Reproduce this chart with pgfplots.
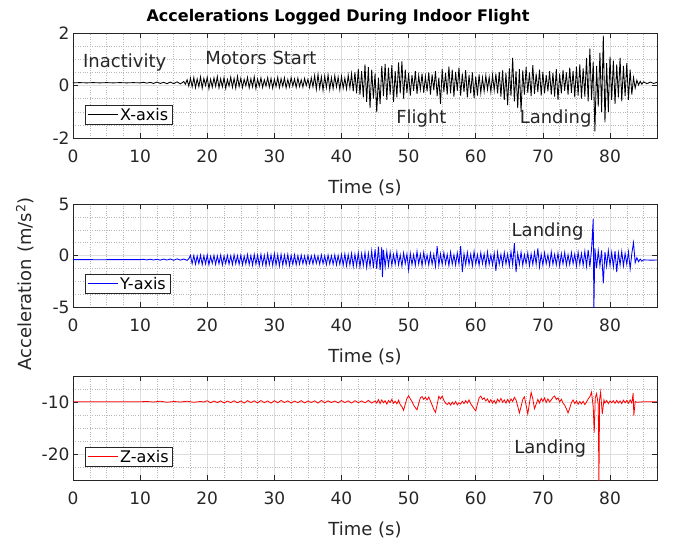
\documentclass[border=0pt]{standalone}
\usepackage{fontspec}
\setmainfont{DejaVu Sans}
\usepackage{pgfplots}
\pgfplotsset{compat=1.18}

\definecolor{axc}{gray}{0.15}
\tikzset{note/.style={font=\fontsize{18}{21}\selectfont, text=axc}}

\pgfplotsset{
  mlab/.style={
    scale only axis, width=584pt,
    xmin=0, xmax=87, xtick={0,10,...,80},
    minor xtick={2.5,5,7.5,12.5,15,17.5,22.5,25,27.5,32.5,35,37.5,42.5,45,47.5,52.5,55,57.5,62.5,65,67.5,72.5,75,77.5,82.5,85},
    grid=both,
    major grid style={color=black!13, line width=0.6pt},
    minor grid style={color=black!28, dotted, line width=0.5pt},
    tick align=inside, tick pos=both,
    major tick length=5pt, minor tick length=0pt,
    axis line style={color=axc, line width=0.6pt},
    every tick/.style={color=axc, line width=0.6pt},
    tick label style={font=\fontsize{17}{20}\selectfont, text=axc},
    xticklabel style={anchor=center, yshift=-18pt},
    /pgf/number format/assume math mode=true,
    xlabel={Time (s)},
    label style={font=\fontsize{18}{21}\selectfont, text=axc},
    xlabel style={at={(axis description cs:0.5,0)}, anchor=center, yshift=-50pt},
    legend style={at={(0,0)}, anchor=south west, xshift=12pt, yshift=13pt,
      font=\fontsize{16}{18}\selectfont, draw=axc, line width=0.6pt,
      inner xsep=2pt, inner ysep=1pt, text=black},
    legend image code/.code={\draw[#1, line width=0.8pt] (0pt,0pt) -- (30pt,0pt);},
    legend cell align=left,
  },
}

\begin{document}
\begin{tikzpicture}
\useasboundingbox (-73pt,33pt) rectangle (604pt,-511pt);

% ---- X axis ----
\begin{axis}[mlab, height=105pt, at={(0pt,0pt)}, anchor=north west,
  ymin=-2, ymax=2, ytick={-2,0,2},
  minor ytick={-1.5,-1,-0.5,0.5,1,1.5},
  title={Accelerations Logged During Indoor Flight},
  title style={font=\bfseries\fontsize{16}{18}\selectfont, at={(axis description cs:0.5,1)}, anchor=center, yshift=10pt, xshift=-27pt}]
\addplot[black, line width=0.85pt] coordinates {
(0,0.10)(1,0.11)(2,0.10)(3,0.11)(4,0.10)(5,0.11)(6,0.10)(7,0.11)(8,0.10)(9,0.11)(10,0.10)
(10.5,0.12)(11,0.09)(11.5,0.12)(12,0.08)(12.5,0.13)(13,0.08)(13.5,0.12)(14,0.07)(14.5,0.13)(15,0.07)(15.5,0.14)(16,0.06)(16.5,0.15)(16.75,0.05)
(17.00,0.22)(17.25,-0.02)(17.50,0.28)(17.75,-0.05)(18.00,0.30)(18.25,-0.08)(18.50,0.25)(18.75,-0.04)
(19.00,0.33)(19.25,-0.10)(19.50,0.27)(19.75,0.00)(20.00,0.31)(20.25,-0.12)(20.50,0.24)(20.75,-0.06)
(21.00,0.29)(21.25,-0.03)(21.50,0.34)(21.75,-0.09)(22.00,0.26)(22.25,-0.05)(22.50,0.30)(22.75,-0.11)
(23.00,0.23)(23.25,-0.02)(23.50,0.32)(23.75,-0.07)(24.00,0.27)(24.25,-0.10)(24.50,0.35)(24.75,-0.04)
(25.00,0.28)(25.25,-0.08)(25.50,0.24)(25.75,-0.01)(26.00,0.31)(26.25,-0.09)(26.50,0.26)(26.75,-0.05)
(27.00,0.33)(27.25,-0.12)(27.50,0.25)(27.75,-0.03)(28.00,0.29)(28.25,-0.07)(28.50,0.22)(28.75,-0.02)
(29.00,0.30)(29.25,-0.06)(29.50,0.27)(29.75,-0.10)(30.00,0.24)(30.25,-0.04)(30.50,0.31)(30.75,-0.08)
(31.00,0.26)(31.25,-0.03)(31.50,0.29)(31.75,-0.09)(32.00,0.23)(32.25,-0.05)(32.50,0.30)(32.75,-0.02)
(33.00,0.25)(33.25,-0.07)(33.50,0.28)(33.75,-0.04)(34.00,0.22)(34.25,-0.06)(34.50,0.27)(34.75,0.00)
(35.00,0.24)(35.25,-0.08)(35.50,0.29)(35.75,-0.05)(36.00,0.38)(36.25,-0.14)(36.50,0.42)(36.75,-0.10)
(37.00,0.33)(37.25,-0.18)(37.50,0.36)(37.75,-0.08)(38.00,0.40)(38.25,-0.15)(38.50,0.30)(38.75,-0.12)
(39.00,0.37)(39.25,-0.06)(39.50,0.32)(39.75,-0.16)(40.00,0.35)(40.25,-0.10)(40.50,0.28)(40.75,-0.13)
(41.00,0.39)(41.25,-0.09)(41.50,0.45)(41.75,-0.22)(42.00,0.50)(42.25,-0.30)(42.50,0.62)(42.75,-0.35)
(43.00,0.55)(43.25,-0.45)(43.50,0.80)(43.75,-0.62)(44.00,0.70)(44.25,-0.85)(44.50,0.60)(44.75,-0.50)
(45.00,0.45)(45.25,-1.02)(45.50,0.30)(45.75,-0.70)(46.00,0.75)(46.25,-0.40)(46.50,0.82)(46.75,-0.55)
(47.00,0.68)(47.25,-0.35)(47.50,0.78)(47.75,-0.62)(48.00,0.55)(48.25,-0.45)(48.50,0.88)(48.75,-0.30)
(49.00,0.92)(49.25,-0.50)(49.50,0.60)(49.75,-0.28)(50.00,0.48)(50.25,-0.38)(50.50,0.40)(50.75,-0.20)
(51.00,0.55)(51.25,-0.32)(51.50,0.38)(51.75,-0.15)(52.00,0.45)(52.25,-0.28)(52.50,0.35)(52.75,-0.22)
(53.00,0.50)(53.25,-0.35)(53.50,0.42)(53.75,-0.18)(54.00,0.55)(54.25,-0.40)(54.50,0.30)(54.75,-0.70)
(55.00,0.62)(55.25,-0.25)(55.50,0.48)(55.75,-0.35)(56.00,0.72)(56.25,-0.30)(56.50,0.60)(56.75,-0.42)
(57.00,0.52)(57.25,-0.20)(57.50,0.68)(57.75,-0.38)(58.00,0.45)(58.25,-0.25)(58.50,0.58)(58.75,-0.45)
(59.00,0.40)(59.25,-0.30)(59.50,0.50)(59.75,-0.48)(60.00,0.35)(60.25,-0.38)(60.50,0.42)(60.75,-0.28)
(61.00,0.30)(61.25,-0.22)(61.50,0.38)(61.75,-0.15)(62.00,0.32)(62.25,-0.25)(62.50,0.40)(62.75,-0.18)
(63.00,0.45)(63.25,-0.30)(63.50,0.52)(63.75,-0.42)(64.00,0.58)(64.25,-0.55)(64.50,0.48)(64.75,-0.75)
(65.00,0.65)(65.25,-0.40)(65.50,1.05)(65.75,-0.60)(66.00,0.55)(66.25,-0.85)(66.50,0.62)(66.75,-1.00)
(67.00,0.58)(67.25,-0.35)(67.50,0.70)(67.75,-0.28)(68.00,0.50)(68.25,-0.40)(68.50,0.78)(68.75,-0.32)
(69.00,0.45)(69.25,-0.25)(69.50,0.60)(69.75,-0.38)(70.00,0.52)(70.25,-0.30)(70.50,0.40)(70.75,-0.22)
(71.00,0.55)(71.25,-0.35)(71.50,0.48)(71.75,-0.42)(72.00,0.62)(72.25,-0.55)(72.50,0.45)(72.75,-0.30)
(73.00,0.58)(73.25,-0.20)(73.50,0.50)(73.75,-0.35)(74.00,0.68)(74.25,-0.28)(74.50,0.55)(74.75,-0.45)
(75.00,0.72)(75.25,-0.38)(75.50,0.80)(75.75,-0.50)(76.00,0.65)(76.25,-0.42)(76.50,1.05)(76.75,-0.60)
(77.00,1.40)(77.25,-0.55)(77.50,0.90)(77.75,-1.75)(78.00,0.75)(78.25,-0.80)(78.50,1.25)(78.75,-1.00)
(79.00,1.90)(79.25,-1.40)(79.50,0.85)(79.75,-1.00)(80.00,1.10)(80.25,-0.55)(80.50,0.95)(80.75,-0.70)
(81.00,0.80)(81.25,-0.45)(81.50,1.05)(81.75,-0.60)(82.00,0.75)(82.25,-0.40)(82.50,0.85)(82.75,-0.55)
(83.00,0.60)(83.25,-0.35)(83.50,0.30)(83.75,-0.10)(84.00,0.20)(84.25,0.02)(84.50,0.16)(84.75,0.05)
(85.00,0.14)(85.50,0.07)(86.00,0.13)(86.50,0.08)(87.00,0.12)
};
\addlegendentry{X-axis}
\node[note] at (axis cs:7.7,0.88) {Inactivity};
\node[note] at (axis cs:28,1.05) {Motors Start};
\node[note] at (axis cs:51.9,-1.24) {Flight};
\node[note] at (axis cs:71.9,-1.24) {Landing};
\end{axis}

% ---- Y axis ----
\begin{axis}[mlab, height=103pt, at={(0pt,-171pt)}, anchor=north west,
  ymin=-5, ymax=5, ytick={-5,0,5},
  minor ytick={-3.75,-2.5,-1.25,1.25,2.5,3.75}]
\addplot[blue, line width=0.85pt] coordinates {
(0,-0.40)(2,-0.40)(4,-0.41)(6,-0.40)(8,-0.40)(10,-0.40)
(10.5,-0.37)(11,-0.43)(11.5,-0.36)(12,-0.44)(12.5,-0.36)(13,-0.45)(13.5,-0.35)(14,-0.44)(14.5,-0.34)(15,-0.46)(15.5,-0.33)(16,-0.45)(16.5,-0.34)(17,-0.47)(17.25,-0.32)
(17.50,0.02)(17.75,-0.80)(18.00,0.00)(18.25,-0.85)(18.50,-0.05)(18.75,-0.78)(19.00,0.03)(19.25,-0.88)
(19.50,-0.02)(19.75,-0.82)(20.00,0.05)(20.25,-0.90)(20.50,-0.08)(20.75,-0.76)(21.00,0.01)(21.25,-0.86)
(21.50,-0.04)(21.75,-0.80)(22.00,0.04)(22.25,-0.92)(22.50,-0.06)(22.75,-0.78)(23.00,0.02)(23.25,-0.84)
(23.50,-0.03)(23.75,-0.88)(24.00,0.06)(24.25,-0.80)(24.50,-0.01)(24.75,-0.86)(25.00,0.03)(25.25,-0.90)
(25.50,-0.05)(25.75,-0.82)(26.00,0.08)(26.25,-0.88)(26.50,0.00)(26.75,-0.94)(27.00,0.10)(27.25,-0.85)
(27.50,0.05)(27.75,-0.96)(28.00,0.12)(28.25,-0.90)(28.50,0.02)(28.75,-0.98)(29.00,0.15)(29.25,-0.88)
(29.50,0.06)(29.75,-0.95)(30.00,0.18)(30.25,-0.92)(30.50,0.08)(30.75,-1.00)(31.00,0.12)(31.25,-0.94)
(31.50,0.04)(31.75,-0.90)(32.00,0.10)(32.25,-0.96)(32.50,0.02)(32.75,-0.86)(33.00,0.06)(33.25,-0.90)
(33.50,-0.02)(33.75,-0.84)(34.00,0.03)(34.25,-0.80)(34.50,-0.05)(34.75,-0.86)(35.00,0.00)(35.25,-0.78)
(35.50,-0.04)(35.75,-0.82)(36.00,0.02)(36.25,-0.76)(36.50,-0.06)(36.75,-0.84)(37.00,0.05)(37.25,-0.80)
(37.50,-0.03)(37.75,-0.88)(38.00,0.04)(38.25,-0.82)(38.50,-0.02)(38.75,-0.86)(39.00,0.06)(39.25,-0.90)
(39.50,0.00)(39.75,-0.85)(40.00,0.10)(40.25,-0.95)(40.50,0.15)(40.75,-1.00)(41.00,0.08)(41.25,-0.92)
(41.50,0.20)(41.75,-1.05)(42.00,0.12)(42.25,-0.98)(42.50,0.25)(42.75,-1.10)(43.00,0.18)(43.25,-0.95)
(43.50,0.30)(43.75,-1.15)(44.00,0.22)(44.25,-1.05)(44.50,0.45)(44.75,-1.20)(45.00,0.60)(45.25,-1.30)
(45.50,0.85)(45.75,-1.40)(46.00,0.80)(46.10,-2.10)(46.25,0.55)(46.50,-1.10)(46.75,0.40)(47.00,-1.00)
(47.25,0.30)(47.50,-0.95)(47.75,0.10)(48.00,-0.85)(48.25,0.35)(48.50,-0.90)(48.75,0.05)(49.00,-1.05)
(49.25,0.25)(49.50,-0.80)(49.75,0.15)(50.00,-1.40)(50.25,0.20)(50.50,-0.88)(50.75,0.08)(51.00,-0.95)
(51.25,0.40)(51.50,-0.82)(51.75,0.12)(52.00,-1.00)(52.25,0.30)(52.50,-0.78)(52.75,0.05)(53.00,-0.92)
(53.25,0.22)(53.50,-0.86)(53.75,0.10)(54.00,-1.05)(54.25,0.90)(54.50,-0.95)(54.75,0.15)(55.00,-0.88)
(55.25,0.28)(55.50,-0.80)(55.75,0.10)(56.00,-0.98)(56.25,0.32)(56.50,-0.85)(56.75,0.06)(57.00,-0.92)
(57.25,0.25)(57.50,-0.82)(57.75,0.90)(58.00,-1.60)(58.25,0.18)(58.50,-0.90)(58.75,0.30)(59.00,-0.86)
(59.25,0.12)(59.50,-1.00)(59.75,0.38)(60.00,-0.84)(60.25,0.08)(60.50,-0.95)(60.75,0.26)(61.00,-0.80)
(61.25,0.15)(61.50,-1.02)(61.75,0.34)(62.00,-0.88)(62.25,0.05)(62.50,-0.92)(62.75,0.22)(63.00,-1.50)
(63.25,0.30)(63.50,-0.85)(63.75,0.10)(64.00,-0.96)(64.25,0.28)(64.50,-0.82)(64.75,0.14)(65.00,-1.00)
(65.25,0.36)(65.50,-0.90)(65.75,1.20)(66.00,-1.60)(66.25,0.20)(66.50,-0.86)(66.75,0.32)(67.00,-0.94)
(67.25,0.08)(67.50,-0.80)(67.75,0.25)(68.00,-0.98)(68.25,0.15)(68.50,-0.88)(68.75,0.30)(69.00,-0.84)
(69.25,0.70)(69.50,-1.10)(69.75,0.12)(70.00,-0.92)(70.25,0.26)(70.50,-0.80)(70.75,0.06)(71.00,-0.96)
(71.25,0.34)(71.50,-0.86)(71.75,0.10)(72.00,-0.90)(72.25,0.22)(72.50,-1.00)(72.75,0.18)(73.00,-0.82)
(73.25,0.30)(73.50,-0.94)(73.75,0.08)(74.00,-0.88)(74.25,0.28)(74.50,-0.80)(74.75,0.14)(75.00,-1.02)
(75.25,0.32)(75.50,-0.86)(75.75,0.20)(76.00,-0.95)(76.25,0.40)(76.50,-1.05)(76.75,0.55)(77.00,-1.10)
(77.25,0.60)(77.50,3.55)(77.60,-5.20)(77.75,0.70)(78.00,-1.20)(78.25,0.45)(78.50,-1.00)(78.75,0.50)
(79.00,-2.70)(79.25,0.35)(79.50,-1.05)(79.75,0.48)(80.00,-0.95)(80.25,0.30)(80.50,-1.10)(80.75,0.42)
(81.00,-1.60)(81.25,0.25)(81.50,-0.90)(81.75,0.38)(82.00,-1.00)(82.25,0.20)(82.50,-0.85)(82.75,0.35)
(83.00,-1.30)(83.25,0.20)(83.50,1.25)(83.75,-0.70)(84.00,-0.20)(84.25,-0.60)(84.50,-0.35)(84.75,-0.55)
(85.00,-0.42)(86.00,-0.45)(87.00,-0.44)
};
\addlegendentry{Y-axis}
\node[note] at (axis cs:70.7,2.28) {Landing};
\end{axis}

% ---- Z axis ----
\begin{axis}[mlab, height=104pt, at={(0pt,-343pt)}, anchor=north west,
  ymin=-25, ymax=-5, ytick={-20,-10},
  minor ytick={-22.5,-17.5,-15,-12.5,-7.5}]
\addplot[red, line width=0.8pt] coordinates {
(0,-9.95)(5,-9.95)(10,-9.95)
(11,-9.90)(12,-10.00)(13,-9.85)(14,-10.05)(15,-9.90)(16,-10.00)(17,-9.85)(18,-10.05)(19,-9.90)(19.5,-10.00)
(20.0,-9.75)(20.5,-10.15)(21.0,-9.80)(21.5,-10.10)(22.0,-9.78)(22.5,-10.18)(23.0,-9.82)(23.5,-10.12)
(24.0,-9.76)(24.5,-10.15)(25.0,-9.80)(25.5,-10.20)(26.0,-9.74)(26.5,-10.10)(27.0,-9.78)(27.5,-10.16)
(28.0,-9.72)(28.5,-10.12)(29.0,-9.80)(29.5,-10.20)(30.0,-9.75)(30.5,-10.15)(31.0,-9.70)(31.5,-10.10)
(32.0,-9.78)(32.5,-10.18)(33.0,-9.82)(33.5,-10.12)(34.0,-9.74)(34.5,-10.16)(35.0,-9.80)(35.5,-10.10)
(36.0,-9.76)(36.5,-10.20)(37.0,-9.70)(37.5,-10.14)(38.0,-9.78)(38.5,-10.10)(39.0,-9.80)(39.5,-10.16)
(40.0,-9.72)(40.5,-10.12)(41.0,-9.78)(41.5,-10.20)(42.0,-9.75)(42.5,-10.10)(43.0,-9.80)(43.5,-10.15)
(44.0,-9.70)(44.5,-10.20)
(45.00,-9.80)(45.25,-10.20)(45.50,-9.55)(45.75,-10.30)(46.00,-9.60)(46.25,-10.15)(46.50,-9.75)(46.75,-10.40)
(47.00,-9.70)(47.25,-10.10)(47.50,-9.50)(47.75,-10.25)(48.00,-9.85)(48.25,-10.35)(48.50,-9.65)(48.75,-10.50)
(49.00,-10.90)(49.25,-11.60)(49.50,-10.40)(49.75,-9.30)(50.00,-8.80)(50.25,-9.40)(50.50,-9.90)(50.75,-10.60)
(51.00,-11.10)(51.25,-11.50)(51.50,-10.30)(51.75,-9.20)(52.00,-8.95)(52.25,-9.50)(52.50,-9.10)(52.75,-9.60)
(53.00,-9.05)(53.25,-9.80)(53.50,-10.60)(53.75,-11.40)(54.00,-12.00)(54.25,-10.50)(54.50,-8.90)(54.75,-9.40)
(55.00,-8.85)(55.25,-9.70)(55.50,-10.20)(55.75,-10.50)(56.00,-10.10)(56.25,-10.60)(56.50,-10.00)(56.75,-10.45)
(57.00,-9.90)(57.25,-10.55)(57.50,-10.15)(57.75,-10.40)(58.00,-9.85)(58.25,-10.30)(58.50,-9.75)(58.75,-10.20)
(59.00,-9.60)(59.25,-10.35)(59.50,-10.80)(59.75,-11.30)(60.00,-11.70)(60.25,-10.40)(60.50,-9.20)(60.75,-8.85)
(61.00,-9.50)(61.25,-9.20)(61.50,-9.80)(61.75,-9.40)(62.00,-10.10)(62.25,-9.55)(62.50,-10.20)(62.75,-9.70)
(63.00,-10.30)(63.25,-9.45)(63.50,-9.95)(63.75,-9.30)(64.00,-10.05)(64.25,-9.60)(64.50,-10.20)(64.75,-9.50)
(65.00,-10.10)(65.25,-9.40)(65.50,-9.90)(65.75,-9.10)(66.00,-9.60)(66.25,-10.80)(66.50,-12.10)(66.75,-10.90)
(67.00,-9.50)(67.25,-9.00)(67.50,-10.60)(67.75,-12.30)(68.00,-10.20)(68.25,-8.15)(68.50,-9.40)(68.75,-11.30)
(69.00,-10.40)(69.25,-9.50)(69.50,-10.20)(69.75,-9.30)(70.00,-9.90)(70.25,-9.20)(70.50,-10.10)(70.75,-9.40)
(71.00,-10.00)(71.25,-9.60)(71.50,-9.10)(71.75,-8.85)(72.00,-9.50)(72.25,-9.20)(72.50,-10.00)(72.75,-9.45)
(73.00,-10.20)(73.25,-10.60)(73.50,-11.30)(73.75,-12.10)(74.00,-11.20)(74.25,-10.10)(74.50,-9.60)(74.75,-10.30)
(75.00,-9.80)(75.25,-10.45)(75.50,-9.90)(75.75,-10.35)(76.00,-9.85)(76.25,-10.50)(76.50,-10.00)(76.75,-9.40)
(77.00,-9.00)(77.25,-8.10)(77.50,-11.00)(77.65,-15.90)(77.80,-9.20)(78.00,-8.40)(78.25,-10.50)(78.35,-26.00)
(78.45,-9.50)(78.60,-8.10)(78.85,-12.30)(79.10,-9.60)(79.25,-10.20)(79.50,-9.70)(79.75,-10.30)(80.00,-9.80)
(80.25,-10.15)(80.50,-9.75)(80.75,-10.25)(81.00,-9.70)(81.25,-10.20)(81.50,-9.80)(81.75,-10.30)(82.00,-9.65)
(82.25,-10.15)(82.50,-9.70)(82.75,-10.25)(83.00,-9.60)(83.25,-10.20)(83.45,-8.30)(83.55,-12.60)(83.75,-9.90)
(84.00,-10.05)(85.00,-9.95)(87.00,-9.95)
};
\addlegendentry{Z-axis}
\node[note] at (axis cs:71.1,-19.0) {Landing};
\end{axis}

\node[rotate=90, font=\fontsize{18}{21}\selectfont, text=axc] at (-48pt,-251pt) {Acceleration (m/s\textsuperscript{2})};
\end{tikzpicture}
\end{document}
